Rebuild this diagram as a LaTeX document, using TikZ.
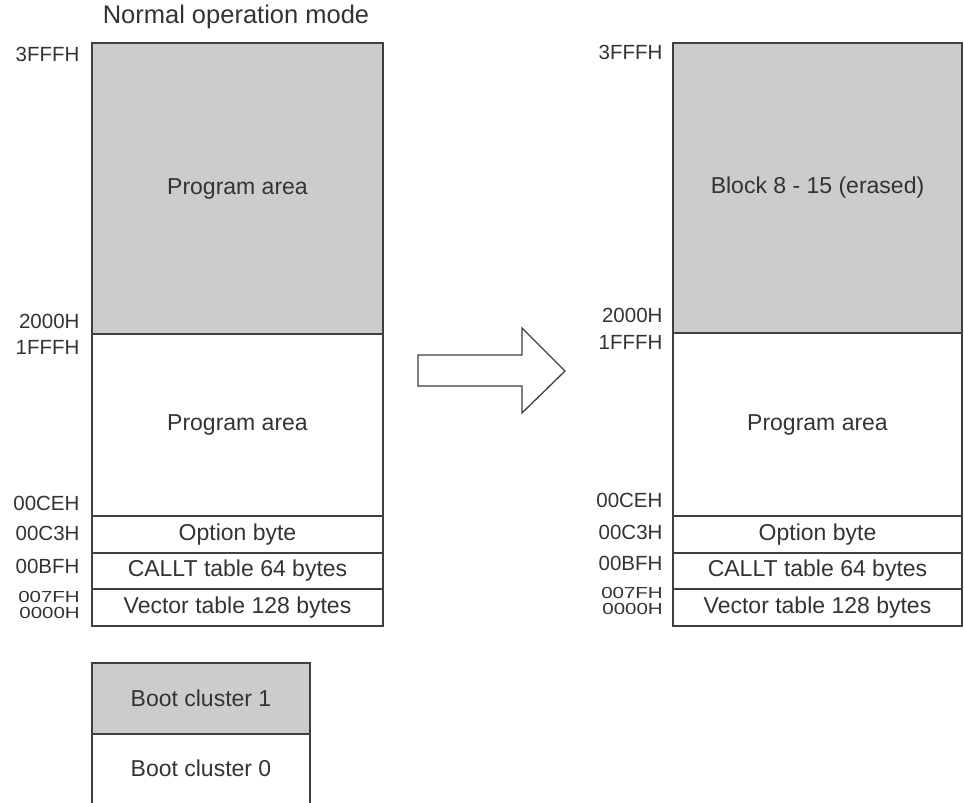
\documentclass[tikz,border=0pt]{standalone}
\usepackage{fontspec}
\usepackage{graphicx}
\setmainfont{Liberation Sans}
\usetikzlibrary{positioning}

\newcommand{\squeezed}[1]{\scalebox{1}[0.78]{#1}}

\begin{document}
\begin{tikzpicture}[x=1pt,y=-1pt,font=\fontsize{23}{26}\selectfont,
	every node/.style={text=black!80},
	area/.style={draw=black!75,line width=1.4pt,minimum width=291pt,inner sep=0pt,outer sep=0pt},
	used/.style={area,fill=black!20},
	addr/.style={anchor=east,font=\fontsize{20.5}{22}\selectfont},
	tight/.style={addr,inner sep=0pt}]
	\useasboundingbox (0,0) rectangle (964,803);

	% normal operation mode
	\node[name=title] at (236,17) {\fontsize{25.5}{28}\selectfont Normal operation mode};
	\node[used,name=hiA,minimum height=291pt,anchor=north west] at (92,43) {Program area};
	\node[area,name=loA,minimum height=182pt,below=0pt of hiA] {Program area};
	\node[area,name=optA,minimum height=37pt,below=0pt of loA] {Option byte};
	\node[area,name=calltA,minimum height=36pt,below=0pt of optA] {CALLT table 64 bytes};
	\node[area,name=vecA,minimum height=37pt,below=0pt of calltA] {Vector table 128 bytes};

	\node[addr] at (83,54) {3FFFH};
	\node[addr] at (83,321) {2000H};
	\node[addr] at (83,347) {1FFFH};
	\node[addr] at (83,503) {00CEH};
	\node[addr] at (83,533) {00C3H};
	\node[addr] at (83,566) {00BFH};
	\node[tight] at (80,597) {\squeezed{007FH}};
	\node[tight] at (80,613) {\squeezed{0000H}};

	% boot clusters
	\node[used,name=boot1,minimum width=218pt,minimum height=71pt,anchor=north west] at (92,663) {Boot cluster 1};
	\node[name=boot0,minimum width=218pt,minimum height=69pt,inner sep=0pt,outer sep=0pt,below=0pt of boot1] {Boot cluster 0};
	\draw[draw=black!75,line width=1.4pt] (boot1.south west) -- (boot0.south west)
		(boot1.south east) -- (boot0.south east);

	% arrow
	\draw[draw=black!75,line width=1.3pt,fill=white,line join=miter]
		(418,355) -- (522,355) -- (522,328) -- (565,371) -- (522,413) -- (522,386) -- (418,386) -- cycle;

	% after erase
	\node[used,name=hiB,minimum width=289pt,minimum height=290pt,anchor=north west] at (673,43) {Block 8 - 15 (erased)};
	\node[area,name=loB,minimum width=289pt,minimum height=183pt,below=0pt of hiB] {Program area};
	\node[area,name=optB,minimum width=289pt,minimum height=37pt,below=0pt of loB] {Option byte};
	\node[area,name=calltB,minimum width=289pt,minimum height=36pt,below=0pt of optB] {CALLT table 64 bytes};
	\node[area,name=vecB,minimum width=289pt,minimum height=37pt,below=0pt of calltB] {Vector table 128 bytes};

	\node[addr] at (666,52) {3FFFH};
	\node[addr] at (666,315) {2000H};
	\node[addr] at (666,342) {1FFFH};
	\node[addr] at (666,500) {00CEH};
	\node[addr] at (666,532) {00C3H};
	\node[addr] at (666,563) {00BFH};
	\node[tight] at (663,593) {\squeezed{007FH}};
	\node[tight] at (663,609) {\squeezed{0000H}};
\end{tikzpicture}
\end{document}
